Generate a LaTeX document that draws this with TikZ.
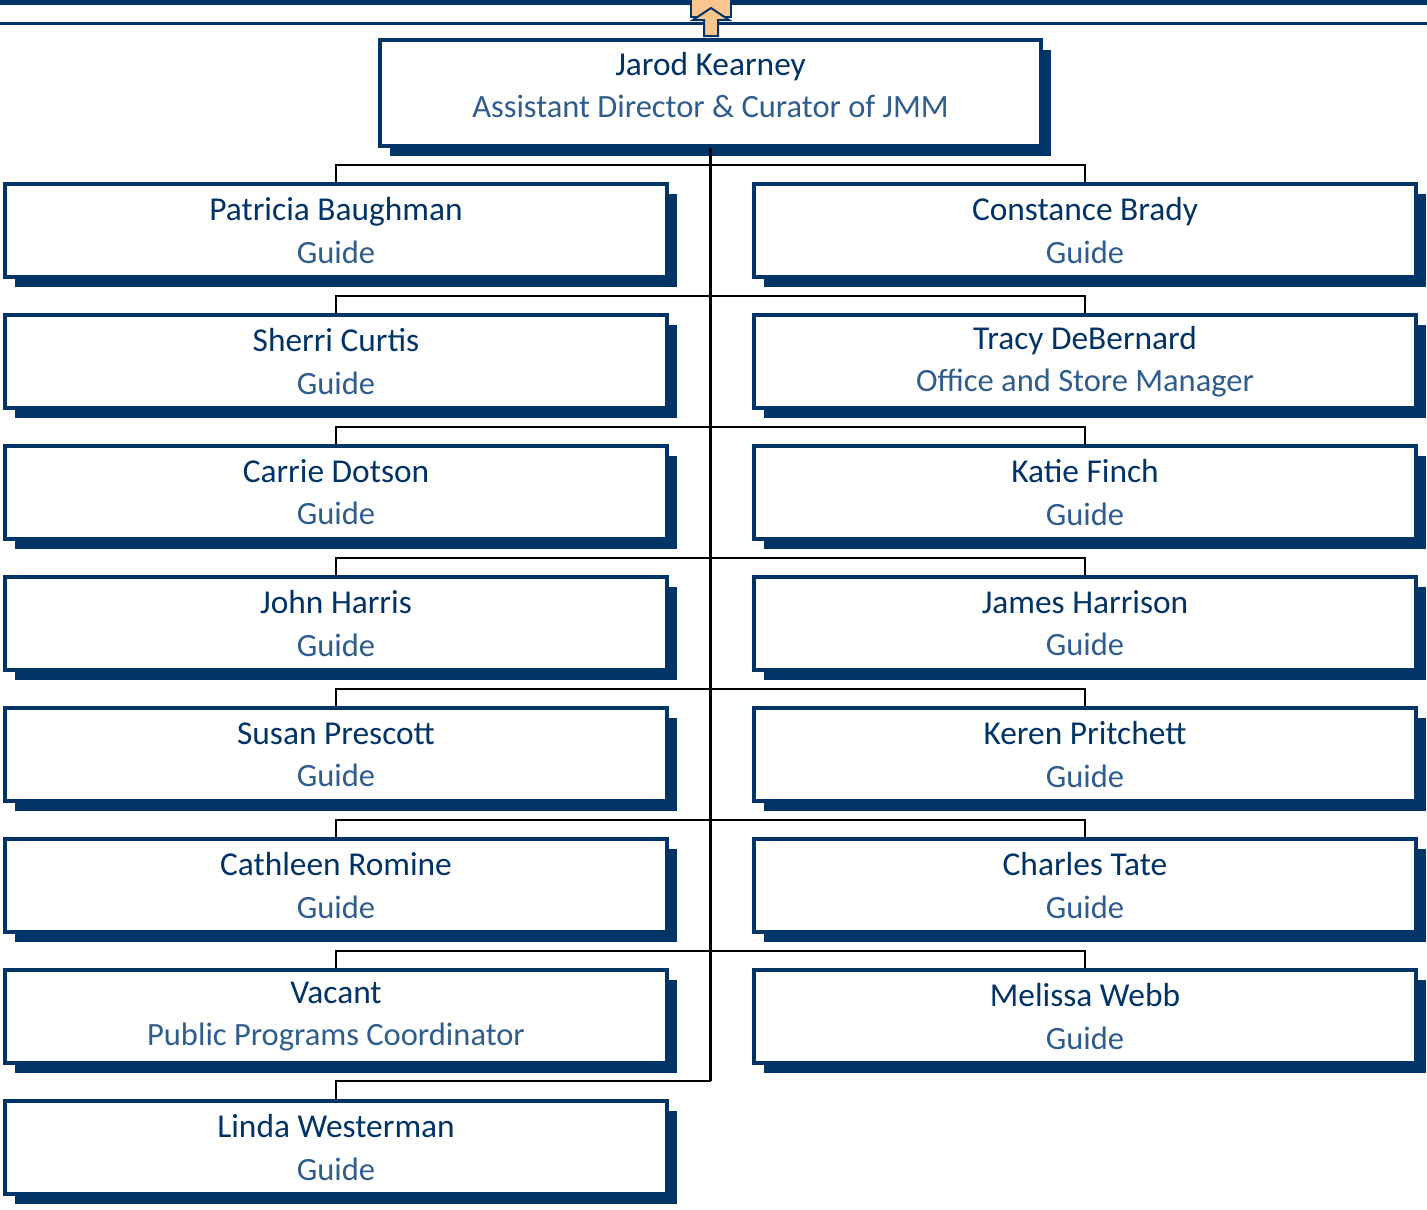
\documentclass[tikz,border=0pt]{standalone}
\usepackage{fontspec}
\setmainfont{Carlito}
\usetikzlibrary{positioning,shadows}
\definecolor{navy}{HTML}{003366}
\definecolor{rolecol}{HTML}{2F5E8E}
\definecolor{tabfill}{HTML}{FAC58F}
\newcommand{\who}[2]{{\fontsize{19}{24}\selectfont\color{navy}#1}\\{\fontsize{18.5}{24}\selectfont\color{rolecol}#2}}

\begin{document}
\begin{tikzpicture}[
  person/.style={draw=navy, line width=0.08cm, fill=white, minimum width=13.24cm, minimum height=1.86cm, align=center,
    font=\fontsize{18.5}{24}\selectfont, drop shadow={shadow xshift=0.2cm, shadow yshift=-0.2cm, fill=navy, opacity=1}},
  link/.style={draw=black, line width=1.5pt}
]
\useasboundingbox (0,0) rectangle (28.54,-24.18);
% top rules
\fill[navy] (0,0) rectangle (28.54,-0.1);
\draw[navy, line width=0.05cm] (0,-0.47) -- (28.54,-0.47);

\node[person, minimum width=13.22cm, minimum height=2.12cm] (jk) at (14.21,-1.86) {\who{Jarod Kearney}{Assistant Director \& Curator of JMM}\\[-15pt]\mbox{}};

% left column
\node[person] (pb) at (6.72,-4.61) {\who{Patricia Baughman}{Guide}};
\node[person, below=0.68cm of pb] (sc) {\who{Sherri Curtis}{Guide}};
\node[person, below=0.68cm of sc] (cd) {\who{Carrie Dotson}{Guide}};
\node[person, below=0.68cm of cd] (jh) {\who{John Harris}{Guide}};
\node[person, below=0.68cm of jh] (sp) {\who{Susan Prescott}{Guide}};
\node[person, below=0.68cm of sp] (cr) {\who{Cathleen Romine}{Guide}};
\node[person, below=0.68cm of cr] (vac) {\who{Vacant}{Public Programs Coordinator}};
\node[person, below=0.68cm of vac] (lw) {\who{Linda Westerman}{Guide}};

% right column
\node[person, right=1.66cm of pb] (cb) {\who{Constance Brady}{Guide}};
\node[person, right=1.66cm of sc] (td) {\who{Tracy DeBernard}{Office and Store Manager}};
\node[person, right=1.66cm of cd] (kf) {\who{Katie Finch}{Guide}};
\node[person, right=1.66cm of jh] (jhn) {\who{James Harrison}{Guide}};
\node[person, right=1.66cm of sp] (kp) {\who{Keren Pritchett}{Guide}};
\node[person, right=1.66cm of cr] (ct) {\who{Charles Tate}{Guide}};
\node[person, right=1.66cm of vac] (mw) {\who{Melissa Webb}{Guide}};

% connectors
\coordinate (lwbus) at ([yshift=0.36cm]lw.north);
\draw[link] (jk.south) -- (jk.south |- lwbus);
\draw[link] (pb.north) -- ++(0,0.34) -| (cb.north);
\draw[link] (sc.north) -- ++(0,0.34) -| (td.north);
\draw[link] (cd.north) -- ++(0,0.34) -| (kf.north);
\draw[link] (jh.north) -- ++(0,0.34) -| (jhn.north);
\draw[link] (sp.north) -- ++(0,0.34) -| (kp.north);
\draw[link] (cr.north) -- ++(0,0.34) -| (ct.north);
\draw[link] (vac.north) -- ++(0,0.34) -| (mw.north);
\draw[link] (lw.north) -- (lwbus) -- (jk.south |- lwbus);

% collapse tab
\filldraw[fill=tabfill, draw=navy, line width=0.04cm] (13.82,0.05) rectangle (14.62,-0.34);
\filldraw[fill=tabfill, draw=navy, line width=0.04cm] (14.08,-0.72) -- (14.08,-0.40) -- (13.86,-0.40) -- (14.22,-0.16)
  -- (14.58,-0.40) -- (14.36,-0.40) -- (14.36,-0.72) -- cycle;
\end{tikzpicture}
\end{document}
